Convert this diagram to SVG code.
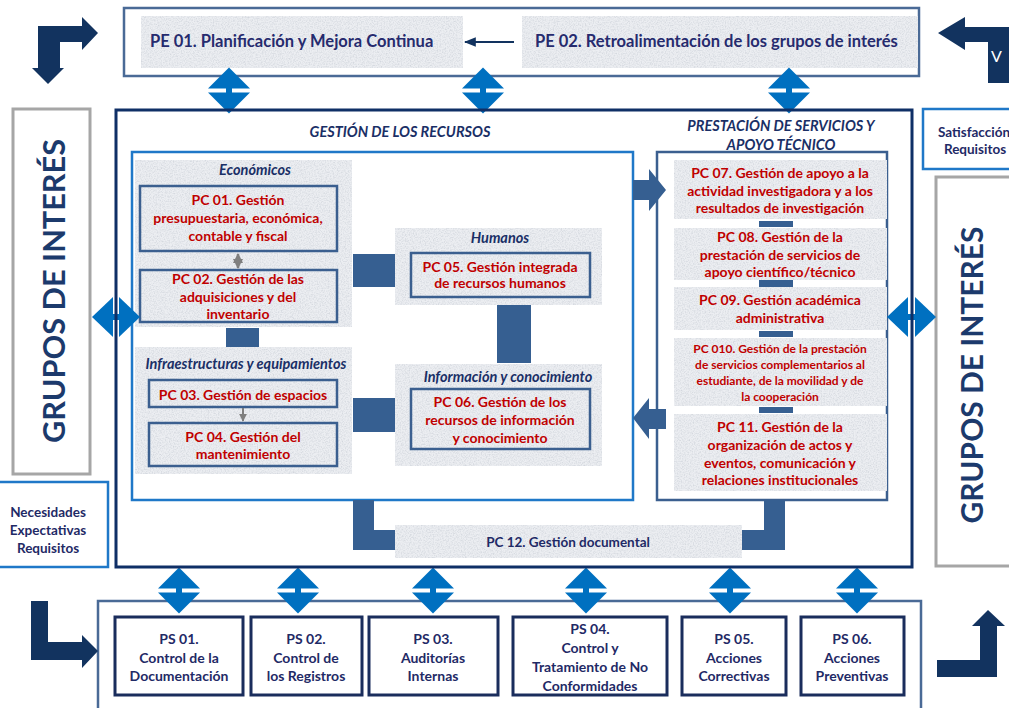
<svg xmlns="http://www.w3.org/2000/svg" xmlns:xlink="http://www.w3.org/1999/xlink" width="1009" height="708" viewBox="0 0 1009 708">
<style>
text{font-family:Lato,"Liberation Sans",sans-serif;font-weight:bold}
.tex{fill:#eceef2;filter:url(#noise)}
.pc{fill:#c00000;font-size:14px;text-anchor:middle}
.pcs{fill:#c00000;font-size:12px;text-anchor:middle}
.nv{fill:#1f2a66;text-anchor:middle}
.ttl{fill:#1a2f66;font-style:italic;font-size:14.5px;text-anchor:middle}
.sub{fill:#1a2f66;font-style:italic;font-size:14.5px;text-anchor:middle}
.box{fill:none;stroke:#3b5f8f;stroke-width:2.5}
.psb{fill:#fff;stroke:#1a2d5c;stroke-width:3}
.conn{fill:#365f91}
.dia{fill:#0070c0}
.nav{fill:#12335f}
.grp{fill:#fff;stroke:#a6a6a6;stroke-width:3}
.gtx{fill:#1c3a6c;font-size:30px;text-anchor:middle}
.lbl{fill:#1f2a66;font-size:13.5px;text-anchor:middle}
</style>
<defs>
<filter id="noise" x="0" y="0" width="100%" height="100%">
<feTurbulence type="fractalNoise" baseFrequency="0.75" numOctaves="3" seed="5" result="t"/>
<feColorMatrix in="t" type="matrix" values="0 0 0 0 0.62  0 0 0 0 0.65  0 0 0 0 0.7  0 0 0 1.8 -0.7" result="s"/>
<feComposite in="s" in2="SourceGraphic" operator="in" result="sp"/>
<feMerge><feMergeNode in="SourceGraphic"/><feMergeNode in="sp"/></feMerge>
</filter>
<g id="vd">
<polygon points="0,-23 21,-2 -21,-2"/>
<polygon points="-21,2 21,2 0,23"/>
<rect x="-3" y="-4" width="6" height="8"/>
</g>
<marker id="ah" viewBox="0 0 10 10" refX="9" refY="5" markerWidth="6" markerHeight="6" orient="auto-start-reverse"><path d="M0,1 L10,5 L0,9 z" fill="#12335f"/></marker>
<marker id="gh" viewBox="0 0 10 10" refX="9" refY="5" markerWidth="4" markerHeight="4" orient="auto-start-reverse"><path d="M0,0 L10,5 L0,10 z" fill="#7f7f7f"/></marker>
</defs>

<!-- Strategic processes -->
<g id="strategic">
<rect x="124" y="8" width="795" height="68" fill="#fff" stroke="#4a6a96" stroke-width="2.5"/>
</g>
<g id="pe01">
<rect class="tex" x="141" y="16" width="322" height="52"/>
<text x="150" y="47" style="fill:#262b6e;font-size:16.5px">PE 01. Planificación y Mejora Continua</text>
</g>
<g id="pe02">
<rect class="tex" x="522" y="16" width="396" height="52"/>
<text x="535" y="47" style="fill:#262b6e;font-size:16.5px">PE 02. Retroalimentación de los grupos de interés</text>
</g>

<!-- Interest groups -->
<g id="grupos-izq">
<rect class="grp" x="13" y="109" width="77" height="365"/>
<text class="gtx" transform="translate(54,291) rotate(-90)" y="11" textLength="304" lengthAdjust="spacingAndGlyphs">GRUPOS DE INTERÉS</text>
</g>
<g id="grupos-der">
<rect class="grp" x="936" y="177" width="80" height="389"/>
<text class="gtx" transform="translate(972,375) rotate(-90)" y="11" textLength="297" lengthAdjust="spacingAndGlyphs">GRUPOS DE INTERÉS</text>
</g>
<g id="necesidades">
<rect x="-2" y="482" width="110" height="85" fill="#fff" stroke="#1f78c8" stroke-width="2.5"/>
<text class="lbl" x="48" y="517">Necesidades</text>
<text class="lbl" x="48" y="535">Expectativas</text>
<text class="lbl" x="48" y="553">Requisitos</text>
</g>
<g id="satisfaccion">
<rect x="923" y="109" width="100" height="60" fill="#fff" stroke="#1f78c8" stroke-width="2.5"/>
<text class="lbl" x="974" y="137">Satisfacción</text>
<text class="lbl" x="975" y="154">Requisitos</text>
</g>

<!-- Resources -->
<g id="recursos">
<text class="ttl" x="400" y="137">GESTIÓN DE LOS RECURSOS</text>
<rect x="132" y="152" width="501" height="348" fill="none" stroke="#1f78c8" stroke-width="2.5"/>
</g>
<g id="economicos">
<rect class="tex" x="135" y="160" width="217" height="167"/>
<text class="sub" x="255" y="175">Económicos</text>
</g>
<g id="pc01">
<rect class="box" x="140" y="186" width="197" height="65"/>
<text class="pc" x="238" y="205">PC 01. Gestión</text>
<text class="pc" x="238" y="223">presupuestaria, económica,</text>
<text class="pc" x="238" y="241">contable y fiscal</text>
</g>
<g id="pc02">
<rect class="box" x="140" y="270" width="197" height="52"/>
<text class="pc" x="238" y="284">PC 02. Gestión de las</text>
<text class="pc" x="238" y="302">adquisiciones y del</text>
<text class="pc" x="238" y="319">inventario</text>
</g>
<g id="infraestructuras">
<rect class="tex" x="135" y="347" width="217" height="127"/>
<text class="sub" x="246" y="369">Infraestructuras y equipamientos</text>
</g>
<g id="pc03">
<rect class="box" x="149" y="380" width="188" height="27"/>
<text class="pc" x="243" y="400">PC 03. Gestión de espacios</text>
</g>
<g id="pc04">
<rect class="box" x="149" y="423" width="188" height="43"/>
<text class="pc" x="243" y="442">PC 04. Gestión del</text>
<text class="pc" x="243" y="459">mantenimiento</text>
</g>
<g id="humanos">
<rect class="tex" x="395" y="228" width="207" height="77"/>
<text class="sub" x="500" y="243">Humanos</text>
</g>
<g id="pc05">
<rect class="box" x="411" y="253" width="179" height="44"/>
<text class="pc" x="500" y="272">PC 05. Gestión integrada</text>
<text class="pc" x="500" y="288">de recursos  humanos</text>
</g>
<g id="informacion">
<rect class="tex" x="395" y="364" width="207" height="102"/>
<text class="sub" x="508" y="382">Información y conocimiento</text>
</g>
<g id="pc06">
<rect class="box" x="411" y="389" width="179" height="60"/>
<text class="pc" x="500" y="407">PC 06. Gestión de los</text>
<text class="pc" x="500" y="425">recursos de información</text>
<text class="pc" x="500" y="443">y conocimiento</text>
</g>

<!-- Services -->
<g id="servicios">
<text class="ttl" x="781" y="131">PRESTACIÓN DE SERVICIOS Y</text>
<text class="ttl" x="781" y="150">APOYO TÉCNICO</text>
<rect class="box" x="657" y="152" width="230" height="348"/>
</g>
<g id="pc07">
<rect class="tex" x="674" y="160" width="213" height="59"/>
<text class="pc" x="780" y="178">PC 07. Gestión de apoyo a la</text>
<text class="pc" x="780" y="196">actividad investigadora y a los</text>
<text class="pc" x="780" y="213">resultados de investigación</text>
</g>
<g id="pc08">
<rect class="tex" x="674" y="228" width="213" height="52"/>
<text class="pc" x="780" y="242">PC 08. Gestión de la</text>
<text class="pc" x="780" y="260">prestación de servicios de</text>
<text class="pc" x="780" y="277">apoyo científico/técnico</text>
</g>
<g id="pc09">
<rect class="tex" x="674" y="287" width="213" height="43"/>
<text class="pc" x="780" y="305">PC 09. Gestión académica</text>
<text class="pc" x="780" y="323">administrativa</text>
</g>
<g id="pc010">
<rect class="tex" x="674" y="338" width="213" height="68"/>
<text class="pcs" x="780" y="353">PC 010. Gestión de la prestación</text>
<text class="pcs" x="780" y="369">de  servicios complementarios al</text>
<text class="pcs" x="780" y="385">estudiante, de la movilidad y de</text>
<text class="pcs" x="780" y="401">la cooperación</text>
</g>
<g id="pc11">
<rect class="tex" x="674" y="414" width="213" height="77"/>
<text class="pc" x="780" y="432">PC 11. Gestión de la</text>
<text class="pc" x="780" y="450">organización de  actos  y</text>
<text class="pc" x="780" y="468">eventos, comunicación y</text>
<text class="pc" x="780" y="485">relaciones  institucionales</text>
</g>
<g id="pc12">
<rect class="tex" x="395" y="525" width="347" height="33"/>
<text class="nv" x="568" y="547" style="font-size:13.5px">PC 12. Gestión documental</text>
</g>

<!-- Support processes -->
<g id="soporte">
<path d="M98,712 V601 H921 V712" fill="none" stroke="#4a6a96" stroke-width="2.5"/>
</g>
<g id="ps01">
<rect class="psb" x="115" y="617" width="128" height="78"/>
<text class="nv" x="179" y="644" font-size="14">PS 01.</text>
<text class="nv" x="179" y="663" font-size="14">Control de la</text>
<text class="nv" x="179" y="681" font-size="14">Documentación</text>
</g>
<g id="ps02">
<rect class="psb" x="251" y="617" width="111" height="78"/>
<text class="nv" x="306" y="644" font-size="14">PS 02.</text>
<text class="nv" x="306" y="663" font-size="14">Control de</text>
<text class="nv" x="306" y="681" font-size="14">los Registros</text>
</g>
<g id="ps03">
<rect class="psb" x="369" y="617" width="129" height="78"/>
<text class="nv" x="433" y="644" font-size="14">PS 03.</text>
<text class="nv" x="433" y="663" font-size="14">Auditorías</text>
<text class="nv" x="433" y="681" font-size="14">Internas</text>
</g>
<g id="ps04">
<rect class="psb" x="513" y="617" width="154" height="78"/>
<text class="nv" x="590" y="634" font-size="14">PS 04.</text>
<text class="nv" x="590" y="653" font-size="14">Control y</text>
<text class="nv" x="590" y="672" font-size="14">Tratamiento de No</text>
<text class="nv" x="590" y="691" font-size="14">Conformidades</text>
</g>
<g id="ps05">
<rect class="psb" x="682" y="617" width="104" height="78"/>
<text class="nv" x="734" y="644" font-size="14">PS 05.</text>
<text class="nv" x="734" y="663" font-size="14">Acciones</text>
<text class="nv" x="734" y="681" font-size="14">Correctivas</text>
</g>
<g id="ps06">
<rect class="psb" x="801" y="617" width="103" height="78"/>
<text class="nv" x="852" y="644" font-size="14">PS 06.</text>
<text class="nv" x="852" y="663" font-size="14">Acciones</text>
<text class="nv" x="852" y="681" font-size="14">Preventivas</text>
</g>

<!-- Connectors -->
<g id="connectors">
<line x1="514" y1="42" x2="465" y2="42" stroke="#12335f" stroke-width="2" marker-end="url(#ah)"/>
<g class="dia">
<use xlink:href="#vd" x="229" y="90.5"/>
<use xlink:href="#vd" x="483" y="90.5"/>
<use xlink:href="#vd" x="789" y="90.5"/>
<use xlink:href="#vd" x="179" y="590.5"/>
<use xlink:href="#vd" x="298" y="590.5"/>
<use xlink:href="#vd" x="433" y="590.5"/>
<use xlink:href="#vd" x="586" y="590.5"/>
<use xlink:href="#vd" x="730" y="590.5"/>
<use xlink:href="#vd" x="857" y="590.5"/>
<polygon points="92,317 113,297 113,337"/>
<polygon points="140,317 119,297 119,337"/>
<rect x="110" y="314" width="12" height="6"/>
<polygon points="887,317 908,297 908,337"/>
<polygon points="936,317 915,297 915,337"/>
<rect x="905" y="314" width="13" height="6"/>
</g>
<line x1="238" y1="254" x2="238" y2="268" stroke="#7f7f7f" stroke-width="2.5" marker-start="url(#gh)" marker-end="url(#gh)"/>
<line x1="243" y1="408" x2="243" y2="421" stroke="#7f7f7f" stroke-width="2" marker-end="url(#gh)"/>
<g class="conn">
<rect x="353" y="254" width="42" height="33"/>
<rect x="353" y="398" width="42" height="34"/>
<rect x="497" y="305" width="34" height="58"/>
<rect x="226" y="328" width="33" height="19"/>
<rect x="759" y="221" width="34" height="6"/>
<rect x="759" y="280" width="34" height="7"/>
<rect x="759" y="331" width="34" height="6"/>
<rect x="759" y="407" width="34" height="6"/>
<polygon points="633,180 649,180 649,169 666,190 649,211 649,200 633,200"/>
<polygon points="666,409 649,409 649,398 633,418 649,439 649,429 666,429"/>
<polygon points="353,500 374,500 374,530 395,530 395,550 353,550"/>
<polygon points="764,500 785,500 785,550 742,550 742,530 764,530"/>
</g>
<g class="nav">
<polygon points="38,26 82,26 82,17 98,33 82,50 82,42 60,42 60,68 64,68 48,84 32,68 38,68"/>
<polygon points="938,33 965,17 965,27 1012,27 1012,83 988,83 988,42 965,42 965,50"/>
<polygon points="31,601 48,601 48,642 82,642 82,635 98,651 82,668 82,660 31,660"/>
<polygon points="988,610 1005,626 997,626 997,677 937,677 937,660 980,660 980,626 972,626"/>
</g>
<text x="991" y="62" style="fill:#fff;font-size:16px;font-weight:normal">V</text>
</g>

<!-- Main frame -->
<g id="marco">
<rect x="116" y="110" width="796" height="457" fill="none" stroke="#0f2f66" stroke-width="3"/>
</g>
</svg>
